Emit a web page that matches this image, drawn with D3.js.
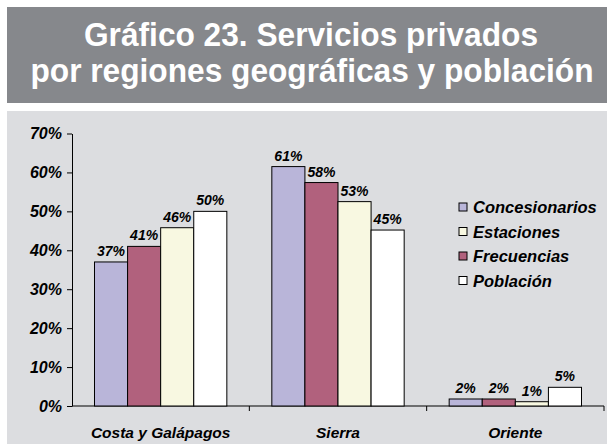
<!DOCTYPE html>
<html>
<head>
<meta charset="utf-8">
<script src="https://cdn.jsdelivr.net/npm/d3@7"></script>
<style>
  body { margin: 0; background: #fff; }
  svg { display: block; }
  text { font-family: "Liberation Sans", Arial, sans-serif; }
</style>
</head>
<body>
<svg id="chart" width="607" height="444"></svg>
<script>
// Chart data
const regions = ["Costa y Galápagos", "Sierra", "Oriente"];
const series = ["Concesionarios", "Frecuencias", "Estaciones", "Población"];
const legendOrder = ["Concesionarios", "Estaciones", "Frecuencias", "Población"];
const colors = ["#b9b5d9", "#b1617d", "#f8f8e1", "#ffffff"];

// values per series, one per region (percent)
const concesionarios = [37, 61.5, 1.8];
const frecuencias = [41, 57.4, 1.8];
const estaciones = [45.8, 52.5, 1.1];
const poblacion = [50, 45.2, 4.8];
// labels as printed over the bars
const concesionariosLbl = ["37%", "61%", "2%"];
const frecuenciasLbl = ["41%", "58%", "2%"];
const estacionesLbl = ["46%", "53%", "1%"];
const poblacionLbl = ["50%", "45%", "5%"];

const yTicks = [0, 10, 20, 30, 40, 50, 60, 70];

const values = [concesionarios, frecuencias, estaciones, poblacion];
const labels = [concesionariosLbl, frecuenciasLbl, estacionesLbl, poblacionLbl];

const svg = d3.select("#chart");

// Title block
svg.append("rect")
  .attr("x", 7).attr("y", 7)
  .attr("width", 600).attr("height", 96)
  .attr("fill", "#86888c");

const titleLines = ["Gráfico 23. Servicios privados", "por regiones geográficas y población"];
svg.selectAll(".title")
  .data(titleLines)
  .enter().append("text")
  .attr("class", "title")
  .attr("transform", (d, i) => `translate(${i ? 312 : 311},${i ? 81.5 : 45.5}) scale(0.96,1)`)
  .attr("text-anchor", "middle")
  .attr("fill", "#fff")
  .attr("font-weight", "bold")
  .attr("font-size", 33)
  .text(d => d);

// Chart background
svg.append("rect")
  .attr("x", 7).attr("y", 111)
  .attr("width", 600).attr("height", 333)
  .attr("fill", "#dcdde0");

// Scales
const x0 = d3.scaleBand().domain(regions).range([72, 604]);
const x1 = d3.scaleBand().domain(series).range([0, x0.bandwidth()]).paddingOuter(0.68);
const y = d3.scaleLinear().domain([0, 70]).range([406, 133.5]);
const color = d3.scaleOrdinal().domain(series).range(colors);

// Y axis
const yAxis = svg.append("g")
  .attr("transform", "translate(72,0)")
  .call(d3.axisLeft(y).tickValues(yTicks).tickFormat(d => d + "%").tickSize(5).tickSizeOuter(0));
yAxis.select(".domain").attr("stroke", "#000");
yAxis.selectAll("text")
  .attr("font-family", "Liberation Sans, Arial, sans-serif")
  .attr("font-size", 16)
  .attr("font-weight", "bold")
  .attr("font-style", "italic")
  .attr("fill", "#000")
  .attr("dx", -2);

// X axis
const xAxis = svg.append("g")
  .attr("transform", "translate(0,406)");
xAxis.append("line")
  .attr("x1", 72).attr("x2", 604)
  .attr("stroke", "#000");
xAxis.selectAll(".tick")
  .data(regions)
  .enter().append("line")
  .attr("x1", d => x0(d) + x0.bandwidth())
  .attr("x2", d => x0(d) + x0.bandwidth())
  .attr("y1", 0).attr("y2", 5)
  .attr("stroke", "#000");
xAxis.selectAll(".cat")
  .data(regions)
  .enter().append("text")
  .attr("x", d => x0(d) + x0.bandwidth() / 2)
  .attr("y", 32)
  .attr("text-anchor", "middle")
  .attr("font-size", 15.5)
  .attr("font-weight", "bold")
  .attr("font-style", "italic")
  .text(d => d);

// Bars
const groups = svg.selectAll(".region")
  .data(regions)
  .enter().append("g")
  .attr("class", "region")
  .attr("transform", d => `translate(${x0(d)},0)`);

groups.each(function(region, ri) {
  const g = d3.select(this);
  const rows = series.map((s, si) => ({ s, v: values[si][ri], lbl: labels[si][ri] }));

  g.selectAll("rect")
    .data(rows)
    .enter().append("rect")
    .attr("x", d => x1(d.s))
    .attr("y", d => y(d.v))
    .attr("width", x1.bandwidth())
    .attr("height", d => y(0) - y(d.v))
    .attr("fill", d => color(d.s))
    .attr("stroke", "#000")
    .attr("stroke-width", 1);

  g.selectAll("text")
    .data(rows)
    .enter().append("text")
    .attr("x", d => x1(d.s) + x1.bandwidth() / 2)
    .attr("y", d => y(d.v) - 6)
    .attr("text-anchor", "middle")
    .attr("font-size", 14)
    .attr("font-weight", "bold")
    .attr("font-style", "italic")
    .text(d => d.lbl);
});

// Legend
const legend = svg.append("g").attr("transform", "translate(459,207)");
const items = legend.selectAll(".item")
  .data(legendOrder)
  .enter().append("g")
  .attr("transform", (d, i) => `translate(0,${i * 24.5})`);
items.append("rect")
  .attr("x", 0).attr("y", -4)
  .attr("width", 8).attr("height", 8)
  .attr("fill", d => color(d))
  .attr("stroke", "#000");
items.append("text")
  .attr("x", 14).attr("y", 6)
  .attr("font-size", 16.5)
  .attr("font-weight", "bold")
  .attr("font-style", "italic")
  .text(d => d);
</script>
</body>
</html>
